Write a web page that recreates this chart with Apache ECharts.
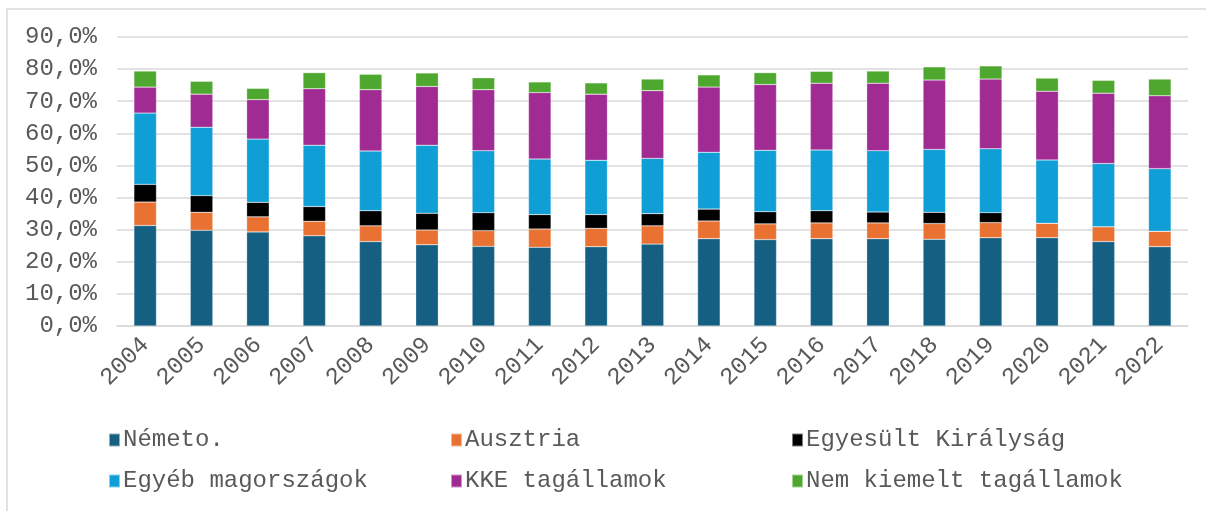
<!DOCTYPE html>
<html>
<head>
<meta charset="utf-8">
<script src="https://cdn.jsdelivr.net/npm/echarts@6/dist/echarts.min.js"></script>
<style>
  html, body { margin: 0; padding: 0; background: #fff; }
  #main { width: 1206px; height: 511px; }
</style>
</head>
<body>
<div id="main"></div>
<script>
(function (window) {
	// years on the x axis
	var years = ['2004','2005','2006','2007','2008','2009','2010','2011','2012','2013',
		'2014','2015','2016','2017','2018','2019','2020','2021','2022'];

	// shares in %
	var nemeto   = [31.3, 29.8, 29.3, 28.1, 26.3, 25.3, 24.8, 24.5, 24.7, 25.5, 27.2, 26.9, 27.2, 27.2, 27.0, 27.5, 27.5, 26.3, 24.7];
	var ausztria = [7.3, 5.6, 4.7, 4.5, 4.9, 4.6, 4.9, 5.7, 5.7, 5.7, 5.5, 4.9, 4.9, 4.9, 4.9, 4.7, 4.5, 4.6, 4.8];
	var uk       = [5.5, 5.2, 4.5, 4.6, 4.7, 5.2, 5.6, 4.5, 4.3, 3.8, 3.7, 3.8, 3.8, 3.4, 3.5, 3.1, 0, 0, 0];
	var egyeb    = [22.2, 21.3, 19.7, 19.1, 18.6, 21.2, 19.3, 17.3, 16.9, 17.2, 17.7, 19.1, 18.9, 19.1, 19.6, 19.9, 19.7, 19.7, 19.5];
	var kke      = [8.1, 10.3, 12.3, 17.6, 19.1, 18.3, 19.0, 20.7, 20.6, 21.1, 20.3, 20.5, 20.8, 21.0, 21.6, 21.7, 21.4, 21.9, 22.7];
	var nemKiem  = [5.0, 4.0, 3.5, 5.0, 4.8, 4.2, 3.7, 3.3, 3.5, 3.6, 3.8, 3.7, 3.7, 3.8, 4.1, 4.1, 4.1, 4.0, 5.2];

	var names = ['Németo.', 'Ausztria', 'Egyesült Királyság', 'Egyéb magországok', 'KKE tagállamok', 'Nem kiemelt tagállamok'];
	var colors = ['#156082', '#E97132', '#000000', '#0F9ED5', '#A02B93', '#4EA72E'];
	var values = [nemeto, ausztria, uk, egyeb, kke, nemKiem];

	var font = '"Liberation Mono", monospace';
	var txt = '#595959';

	var series = [];
	for (var i = 0; i < names.length; i++) {
		series.push({
			name: names[i],
			type: 'bar',
			stack: 'total',
			barWidth: '40%',
			itemStyle: { color: colors[i], borderColor: 'rgba(255,255,255,0.5)', borderWidth: 0.5 },
			data: values[i]
		});
	}

	function legendCol(data, left) {
		return {
			data: data,
			orient: 'vertical',
			left: left,
			top: 423,
			itemGap: 17,
			itemWidth: 11,
			itemHeight: 13,
			icon: 'rect',
			selectedMode: false,
			textStyle: { fontFamily: font, fontSize: 24, color: txt, padding: [0, 0, 0, -2] }
		};
	}

	var myChart = echarts.init(document.getElementById('main'));
	var option = {
		backgroundColor: '#fff',
		animation: false,
		color: colors,
		graphic: [{
			type: 'rect',
			shape: { x: 7, y: 9, width: 1220, height: 520 },
			style: { fill: 'none', stroke: '#d9d9d9', lineWidth: 1.5 },
			silent: true
		}],
		legend: [
			legendCol([names[0], names[3]], 103),
			legendCol([names[1], names[4]], 445),
			legendCol([names[2], names[5]], 786)
		],
		grid: { left: 117, right: 18, top: 37, bottom: 185 },
		xAxis: {
			type: 'category',
			data: years,
			axisLine: { lineStyle: { color: '#d9d9d9', width: 1.5 } },
			axisTick: { show: false },
			axisLabel: { rotate: 45, fontFamily: font, fontSize: 24, color: txt, margin: 15 }
		},
		yAxis: {
			type: 'value',
			min: 0,
			max: 90,
			interval: 10,
			axisLine: { show: false },
			axisTick: { show: false },
			splitLine: { lineStyle: { color: '#d9d9d9', width: 1.5 } },
			axisLabel: {
				fontFamily: font, fontSize: 24, color: txt, margin: 20,
				formatter: function (v) { return v.toFixed(1).replace('.', ',') + '%'; }
			}
		},
		series: series
	};

	myChart.setOption(option);
})(window);
</script>
</body>
</html>
